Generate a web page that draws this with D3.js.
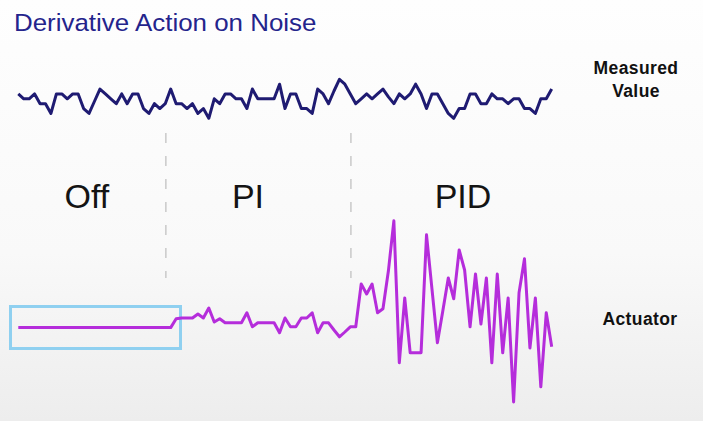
<!DOCTYPE html>
<html>
<head>
<meta charset="utf-8">
<script src="https://cdn.jsdelivr.net/npm/d3@7"></script>
<style>
  html, body { margin: 0; padding: 0; }
  svg { display: block; }
</style>
</head>
<body>
<svg id="chart"></svg>
<script>
// measured value (noise around a set point), one sample per step
var measured = [5,4,4,5,3,3,1,5,5,4, 5,5,2,1,3.5,6,5,4,3,5,
                3,5,5,2,1,3,2,3,6,3, 3,2,3,1,2,0,4,3,5,5,
                4,4,2,6,4,4,4,4,7,2, 5,5,2,2,1,6,5,3,5.6,8,
                7,5,3,4,5,4,5,6,4.4,3, 5,4,5,7,5,2,5,5,3,1,
                0,2,2,5,5,3,3,5,4,4, 3,4,4,2,2,1,4,4,6];

// actuator output: off, then PI, then PID
var actuator = [18.6,18.6,18.6,18.6,18.6,18.6,18.6,18.6,18.6,18.6,
                18.6,18.6,18.6,18.6,18.6,18.6,18.6,18.6,18.6,18.6,
                18.6,18.6,18.6,18.6,18.6,18.6,18.6,18.6,18.6,20.8,
                21,21,21,22,21,23.5,20,20.8,19.8,19.8,
                19.8,19.8,22.3,18.8,19.8,19.8,19.8,19.8,17.3,21,
                18.8,18.8,21,21,22.3,17.3,19.8,19.8,18,16.3,
                17.5,18.8,18.8,29.5,27,29.5,22.3,23.3,32.8,45.3,
                9.8,26,12.3,12.3,12.3,41.8,28.3,14.8,22.8,31,
                25.8,38,33,18.8,32,19.5,31,9.8,32,12.3,
                26,0,27.3,35.8,13.5,26,3.8,22.3,13.8];

var modes = ["Off", "PI", "PID"];
var modeCenters = [12.6, 42.2, 81.7];   // sample position under each label
var modeSwitches = [27, 61];            // sample index where the controller changes

var W = 703, H = 421;
var svg = d3.select("#chart").attr("width", W).attr("height", H);

// soft grey backdrop
var defs = svg.append("defs");
var grad = defs.append("linearGradient").attr("id", "bg")
    .attr("x1", 0).attr("y1", 0).attr("x2", 0).attr("y2", 1);
grad.append("stop").attr("offset", "0%").attr("stop-color", "#fefefe");
grad.append("stop").attr("offset", "60%").attr("stop-color", "#f9f9f9");
grad.append("stop").attr("offset", "100%").attr("stop-color", "#ededed");
svg.append("rect").attr("width", W).attr("height", H).attr("fill", "url(#bg)");

var x = d3.scaleLinear().domain([0, measured.length - 1]).range([18.3, 551.7]);
var yMeas = d3.scaleLinear().domain([0, 8]).range([118.3, 79.3]);
var yAct = d3.scaleLinear().domain([0, 45]).range([402, 222]);

// title (the slide font is a bit wider than Liberation, so stretch it)
svg.append("text")
    .attr("transform", "translate(14,31) scale(1.08,1)")
    .attr("font-family", "Liberation Sans, Arial, sans-serif")
    .attr("font-size", 24)
    .attr("fill", "#24248c")
    .text("Derivative Action on Noise");

// dashed separators between modes
svg.selectAll("line.sep")
    .data(modeSwitches)
    .enter().append("line")
    .attr("class", "sep")
    .attr("x1", function(d) { return x(d) + 0.6; })
    .attr("x2", function(d) { return x(d) + 0.6; })
    .attr("y1", 133).attr("y2", 278)
    .attr("stroke", "#c9c9c9")
    .attr("stroke-width", 1.5)
    .attr("stroke-dasharray", "10,13");

// mode labels
svg.selectAll("text.mode")
    .data(modes)
    .enter().append("text")
    .attr("class", "mode")
    .attr("x", function(d, i) { return x(modeCenters[i]); })
    .attr("y", 208)
    .attr("text-anchor", "middle")
    .attr("font-family", "Liberation Sans, Arial, sans-serif")
    .attr("font-size", 34)
    .attr("fill", "#141414")
    .text(function(d) { return d; });

// highlight box around the "off" part of the actuator
svg.append("rect")
    .attr("x", 10.5).attr("y", 306.5)
    .attr("width", 170).attr("height", 42)
    .attr("fill", "none")
    .attr("stroke", "#8fd0f0")
    .attr("stroke-width", 3);

var measLine = d3.line()
    .x(function(d, i) { return x(i); })
    .y(function(d) { return yMeas(d); });

var actLine = d3.line()
    .x(function(d, i) { return x(i); })
    .y(function(d) { return yAct(d); });

svg.append("path")
    .datum(measured)
    .attr("d", measLine)
    .attr("fill", "none")
    .attr("stroke", "#1f1b72")
    .attr("stroke-width", 3)
    .attr("stroke-linejoin", "round");

svg.append("path")
    .datum(actuator)
    .attr("d", actLine)
    .attr("fill", "none")
    .attr("stroke", "#b52ddb")
    .attr("stroke-width", 3)
    .attr("stroke-linejoin", "round");

// right-hand series labels
var lab = svg.append("g")
    .attr("font-family", "Liberation Sans, Arial, sans-serif")
    .attr("font-size", 17.5)
    .attr("font-weight", "bold")
    .attr("letter-spacing", 0.4)
    .attr("fill", "#111")
    .attr("text-anchor", "middle");
lab.append("text").attr("x", 636).attr("y", 73.5).text("Measured");
lab.append("text").attr("x", 636).attr("y", 97).text("Value");
lab.append("text").attr("x", 640).attr("y", 325).text("Actuator");
</script>
</body>
</html>
